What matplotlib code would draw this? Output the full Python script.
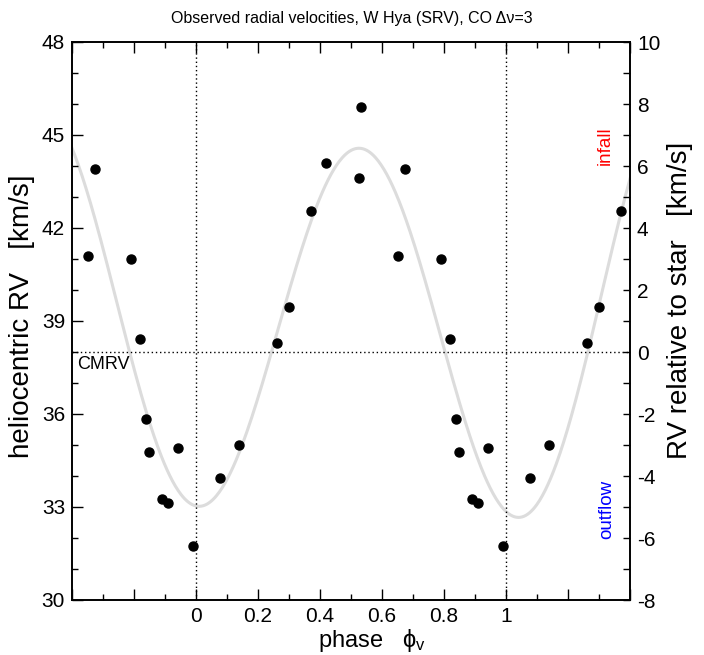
import numpy as np
import matplotlib
matplotlib.use("Agg")
import matplotlib.pyplot as plt
from matplotlib.ticker import FixedLocator, FixedFormatter, MultipleLocator

plt.rcParams['font.family'] = ['Liberation Sans', 'DejaVu Sans']
plt.rcParams['axes.unicode_minus'] = False
plt.rcParams['mathtext.fontset'] = 'custom'
plt.rcParams['mathtext.rm'] = 'Liberation Sans'
plt.rcParams['mathtext.it'] = 'Liberation Sans'
plt.rcParams['mathtext.bf'] = 'Liberation Sans:bold'

# observed data (unique phases, heliocentric RV in km/s)
phase = [0.990, 0.079, 0.140, 0.260, 0.299, 0.370, 0.418, 0.527, 0.532,
         0.651, 0.673, 0.791, 0.818, 0.840, 0.849, 0.889, 0.910, 0.941]
rv = [31.73, 33.95, 34.99, 38.30, 39.44, 42.55, 44.11, 43.61, 45.91,
      41.11, 43.91, 41.01, 38.41, 35.83, 34.77, 33.26, 33.12, 34.91]

cmrv = 38.0
# fitted model curve parameters
fit_mean = 38.92
fit_amp0 = 5.645
fit_amp1 = 0.27
fit_amp2 = 1.62
fit_period = 1.016
fit_phase0 = 0.524

xmin, xmax = -0.4, 1.4

fig = plt.figure(figsize=(7.04, 6.55), dpi=100)
ax = fig.add_axes([72/704, 1-600/655, 558/704, 558/655])

ph = np.asarray(phase)
v = np.asarray(rv)
allx = np.concatenate([ph - 1, ph, ph + 1])
ally = np.concatenate([v, v, v])
m = (allx >= xmin) & (allx <= xmax)

xx = np.linspace(xmin, xmax, 600)
u = xx - 0.5
amp = fit_amp0 + fit_amp1 * u + fit_amp2 * u ** 2
yy = fit_mean + amp * np.cos(2 * np.pi * (xx - fit_phase0) / fit_period)
ax.plot(xx, yy, color='#dcdcdc', lw=2.2, zorder=1)

ax.axvline(0, color='black', lw=1, ls=(0, (1, 2)), zorder=2)
ax.axvline(1, color='black', lw=1, ls=(0, (1, 2)), zorder=2)
ax.axhline(cmrv, color='black', lw=1, ls=(0, (1, 2)), zorder=2)

ax.plot(allx[m], ally[m], 'o', color='black', ms=6.5, zorder=3)

ax.set_xlim(xmin, xmax)
ax.set_ylim(30, 48)

xmaj = [-0.4, -0.2, 0, 0.2, 0.4, 0.6, 0.8, 1.0, 1.2, 1.4]
xlab = ['', '', '0', '0.2', '0.4', '0.6', '0.8', '1', '', '']
ax.xaxis.set_major_locator(FixedLocator(xmaj))
ax.xaxis.set_major_formatter(FixedFormatter(xlab))
ax.xaxis.set_minor_locator(MultipleLocator(0.1))
ax.yaxis.set_major_locator(MultipleLocator(3))
ax.yaxis.set_minor_locator(MultipleLocator(1))

ax.tick_params(which='both', direction='in', top=True, right=False,
               labelsize=15, width=1)
ax.tick_params(which='major', length=8)
ax.tick_params(which='minor', length=4)
ax.tick_params(axis='y', pad=5)
ax.tick_params(axis='x', pad=5)
for s in ax.spines.values():
    s.set_linewidth(1.2)

ax.set_xlabel(r'phase   $\phi_{\rm v}$', fontsize=17)
ax.xaxis.set_label_coords((372 - 72) / 558, -0.048)
ax.set_ylabel('heliocentric RV   [km/s]', fontsize=20)
ax.yaxis.set_label_coords((35 - 72) / 558, 1 - (316 - 42) / 558)

ax2 = ax.twinx()
ax2.set_ylim(30 - cmrv, 48 - cmrv)
ax2.yaxis.set_major_locator(MultipleLocator(2))
ax2.yaxis.set_minor_locator(MultipleLocator(1))
ax2.tick_params(which='both', direction='in', length=5, labelsize=15, pad=5, width=1)
ax2.set_ylabel('RV relative to star   [km/s]', fontsize=20)
ax2.yaxis.set_label_coords((667 - 72) / 558, 1 - (300 - 42) / 558)
for s in ax2.spines.values():
    s.set_linewidth(1.2)

ax.text(-0.385, cmrv - 0.12, 'CMRV', fontsize=13, va='top', ha='left')
ax.text(0.955, 0.815, 'infall', color='red', fontsize=13.5, rotation=90,
        ha='center', va='center', transform=ax.transAxes)
ax.text(0.959, 0.163, 'outflow', color='blue', fontsize=13.5, rotation=90,
        ha='center', va='center', transform=ax.transAxes)

fig.text(0.5, 1 - 18/655, 'Observed radial velocities, W Hya (SRV), CO \u0394\u03bd=3',
         fontsize=11.5, ha='center', va='center')

fig.savefig('out.png', dpi=100)
